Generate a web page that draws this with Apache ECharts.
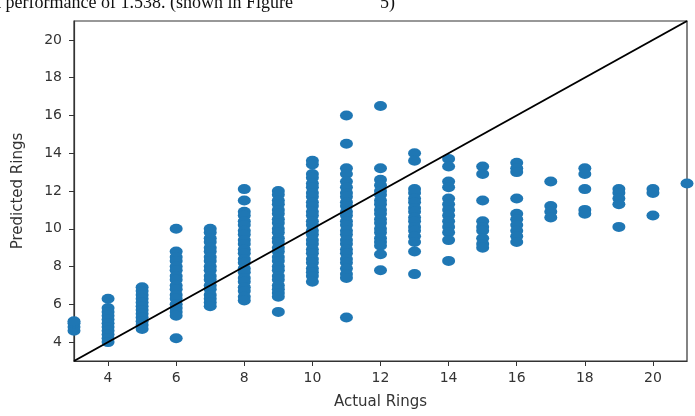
<!DOCTYPE html>
<html>
<head>
<meta charset="utf-8">
<script src="https://cdn.jsdelivr.net/npm/echarts@6/dist/echarts.min.js"></script>
<style>
html, body { margin: 0; padding: 0; background: #fff; }
#chart { width: 695px; height: 416px; }
</style>
</head>
<body>
<div id="chart"></div>
<script>
// actual ring counts (x) and the predicted values
var actualRings = [3, 4, 5, 6, 7, 8, 9, 10, 11, 12, 13, 14, 15, 16, 17, 18, 19, 20, 21];
var predictedRings = [
  [4.6, 4.8, 5.0, 5.1],
  [6.3, 5.8, 5.6, 5.4, 5.2, 5.0, 4.8, 4.6, 4.4, 4.2, 4.0],
  [6.9, 6.7, 6.5, 6.3, 6.1, 5.9, 5.7, 5.5, 5.3, 5.1, 4.9, 4.7],
  [10.0, 8.8, 8.5, 8.3, 8.0, 7.8, 7.5, 7.3, 7.0, 6.8, 6.5, 6.3, 6.0, 5.8, 5.6, 5.4, 4.2],
  [10.0, 9.8, 9.5, 9.3, 9.0, 8.8, 8.5, 8.3, 8.0, 7.8, 7.5, 7.3, 7.0, 6.8, 6.5, 6.3, 6.1, 5.9],
  [12.1, 11.5, 10.9, 10.7, 10.4, 10.2, 9.9, 9.7, 9.4, 9.2, 8.9, 8.7, 8.4, 8.2, 7.9, 7.7, 7.4, 7.2, 6.9, 6.7, 6.4, 6.2],
  [12.0, 11.8, 11.5, 11.3, 11.0, 10.8, 10.5, 10.3, 10.0, 9.8, 9.5, 9.3, 9.0, 8.8, 8.5, 8.3, 8.0, 7.8, 7.5, 7.3, 7.0, 6.8, 6.6, 6.4, 5.6],
  [13.6, 13.4, 12.9, 12.7, 12.4, 12.2, 11.9, 11.7, 11.4, 11.2, 10.9, 10.7, 10.4, 10.2, 9.9, 9.7, 9.4, 9.2, 8.9, 8.7, 8.4, 8.2, 7.9, 7.7, 7.5, 7.2],
  [16.0, 14.5, 13.2, 12.9, 12.5, 12.2, 11.9, 11.7, 11.4, 11.2, 10.9, 10.7, 10.4, 10.2, 9.9, 9.7, 9.4, 9.2, 8.9, 8.7, 8.4, 8.2, 7.9, 7.6, 7.4, 5.3],
  [16.5, 13.2, 12.6, 12.3, 12.0, 11.8, 11.5, 11.3, 11.0, 10.8, 10.5, 10.3, 10.0, 9.8, 9.5, 9.3, 9.1, 8.65, 7.8],
  [14.0, 13.6, 12.1, 11.9, 11.6, 11.4, 11.1, 10.9, 10.6, 10.4, 10.1, 9.9, 9.6, 9.3, 8.8, 7.6],
  [13.7, 13.3, 12.5, 12.2, 11.6, 11.3, 11.0, 10.7, 10.4, 10.1, 9.8, 9.4, 8.3],
  [13.3, 12.9, 11.5, 10.4, 10.1, 9.9, 9.5, 9.2, 9.0],
  [13.5, 13.2, 13.0, 11.6, 10.8, 10.5, 10.2, 9.9, 9.6, 9.3],
  [12.5, 11.2, 10.9, 10.6],
  [13.2, 12.9, 12.1, 11.0, 10.8],
  [12.1, 11.9, 11.6, 11.3, 10.1],
  [12.1, 11.9, 10.7],
  [12.4]
];
var tickValues = [4, 6, 8, 10, 12, 14, 16, 18, 20];
var identityLine = [3, 21];

var points = [];
actualRings.forEach(function (a, i) {
  predictedRings[i].forEach(function (p) { points.push([a, p]); });
});

var myChart = echarts.init(document.getElementById('chart'));
var axisColor = '#333';
var option = {
  backgroundColor: '#fff',
  animation: false,
  graphic: [
    { type: 'text', x: -4, y: 12, style: { text: 't performance of 1.538. (shown in Figure', font: '18px "Liberation Serif"', fill: '#111', verticalAlign: 'bottom' } },
    { type: 'text', x: 380, y: 12, style: { text: '5)', font: '18px "Liberation Serif"', fill: '#111', verticalAlign: 'bottom' } }
  ],
  grid: {
    left: 74, top: 21, right: 8, bottom: 55,
    show: true, borderColor: axisColor, borderWidth: 1.2,
    outerBoundsMode: 'none'
  },
  xAxis: {
    type: 'value', min: 3, max: 21,
    name: 'Actual Rings', nameLocation: 'middle', nameGap: 34,
    nameTextStyle: { fontFamily: 'DejaVu Sans', fontSize: 15, color: '#333' },
    axisLine: { lineStyle: { color: axisColor, width: 1.2 } },
    axisTick: { length: 5, lineStyle: { color: axisColor }, customValues: tickValues },
    axisLabel: { fontFamily: 'DejaVu Sans', fontSize: 14, color: '#333', margin: 10, customValues: tickValues },
    splitLine: { show: false }
  },
  yAxis: {
    type: 'value', min: 3, max: 21,
    name: 'Predicted Rings', nameLocation: 'middle', nameGap: 48,
    nameTextStyle: { fontFamily: 'DejaVu Sans', fontSize: 15, color: '#333' },
    axisLine: { show: true, lineStyle: { color: axisColor, width: 1.2 } },
    axisTick: { show: true, length: 5, lineStyle: { color: axisColor }, customValues: tickValues },
    axisLabel: { fontFamily: 'DejaVu Sans', fontSize: 14, color: '#333', margin: 12, customValues: tickValues },
    splitLine: { show: false }
  },
  series: [
    {
      type: 'scatter',
      data: points,
      symbol: 'circle',
      symbolSize: [13, 10],
      itemStyle: { color: '#1f77b4', opacity: 1 },
      z: 2
    },
    {
      type: 'line',
      data: [[identityLine[0], identityLine[0]], [identityLine[1], identityLine[1]]],
      symbol: 'none',
      lineStyle: { color: '#000', width: 2 },
      z: 3
    }
  ]
};
myChart.setOption(option);
</script>
</body>
</html>
